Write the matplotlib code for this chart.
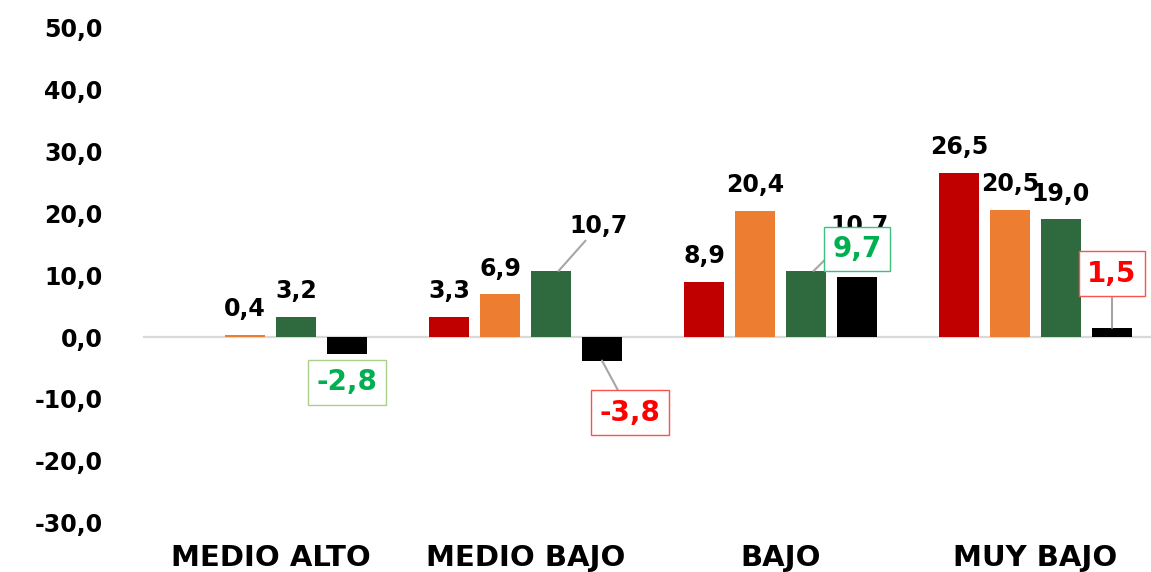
import numpy as np
import matplotlib
matplotlib.use("Agg")
import matplotlib.pyplot as plt

# datos por nivel socioeconómico
categorias = ["MEDIO ALTO", "MEDIO BAJO", "BAJO", "MUY BAJO"]
serie_roja = [np.nan, 3.3, 8.9, 26.5]
serie_naranja = [0.4, 6.9, 20.4, 20.5]
serie_verde = [3.2, 10.7, 10.7, 19.0]
serie_negra = [-2.8, -3.8, 9.7, 1.5]

colores = ["#C00000", "#ED7D31", "#2F6A3E", "#000000"]
series = [serie_roja, serie_naranja, serie_verde, serie_negra]

def fmt(v):
    return f"{v:.1f}".replace(".", ",")

fig = plt.figure(figsize=(11.51, 5.72), dpi=100)
ax = fig.add_axes([143 / 1151, 49.2 / 572, 1020 / 1151, 495.2 / 572])

x = np.arange(len(categorias))
paso = 0.2
ancho = 0.16
for k, (vals, col) in enumerate(zip(series, colores)):
    ax.bar(x + (k - 1.5) * paso, vals, width=ancho, color=col, zorder=3)

ax.axhline(0, color="#D9D9D9", lw=1.6, zorder=2)

ax.set_ylim(-30, 50)
ax.set_xlim(-0.5, 3.5)
ax.set_yticks(np.arange(-30, 51, 10))
ax.set_yticklabels([fmt(t) for t in np.arange(-30, 51, 10)],
                   fontsize=17, fontweight="bold", family="DejaVu Sans")
ax.set_xticks(x)
ax.set_xticklabels(categorias, fontsize=21, fontweight="bold",
                   family="DejaVu Sans")
ax.tick_params(axis="y", length=0, pad=29)
ax.tick_params(axis="x", length=0, pad=15)
for s in ax.spines.values():
    s.set_visible(False)

px = 0.72  # pixel -> points
linea = dict(arrowstyle="-", color="#A6A6A6", lw=1.5, shrinkA=0, shrinkB=0)

# etiquetas de las tres primeras series
for k in range(3):
    for i, v in enumerate(series[k]):
        if np.isnan(v):
            continue
        xb = i + (k - 1.5) * paso
        if k == 2 and i in (1, 2):
            dx = 40 if i == 1 else 46
            ax.annotate(fmt(v), xy=(xb + 0.03, v), xytext=(dx * px, 45 * px),
                        textcoords="offset points", ha="center", va="center",
                        fontsize=17, fontweight="bold", arrowprops=linea, zorder=5)
        else:
            ax.annotate(fmt(v), xy=(xb, v), xytext=(0, 10),
                        textcoords="offset points", ha="center", va="bottom",
                        fontsize=17, fontweight="bold", zorder=5)

# etiquetas de la serie negra en recuadros
verde_txt = "#00B050"
rojo_txt = "#FF0000"
cajas = [
    (0, verde_txt, "#A9D18E", 0, -28, False),
    (1, rojo_txt, "#FF5050", 28, -52, True),
    (2, verde_txt, "#40C080", 0, 28, False),
    (3, rojo_txt, "#FF5050", 0, 54, True),
]
for i, ctxt, cbox, dx, dy, con_linea in cajas:
    v = serie_negra[i]
    xb = i + 1.5 * paso
    ax.annotate(fmt(v), xy=(xb, v), xytext=(dx * px, dy * px),
                textcoords="offset points", ha="center", va="center",
                fontsize=20, fontweight="bold", color=ctxt, zorder=6,
                bbox=dict(boxstyle="square,pad=0.3", fc="white", ec=cbox, lw=1),
                arrowprops=dict(arrowstyle="-", color="#A6A6A6", lw=1.5,
                                shrinkA=0, shrinkB=0) if con_linea else None)

fig.savefig("out.png", dpi=100)
